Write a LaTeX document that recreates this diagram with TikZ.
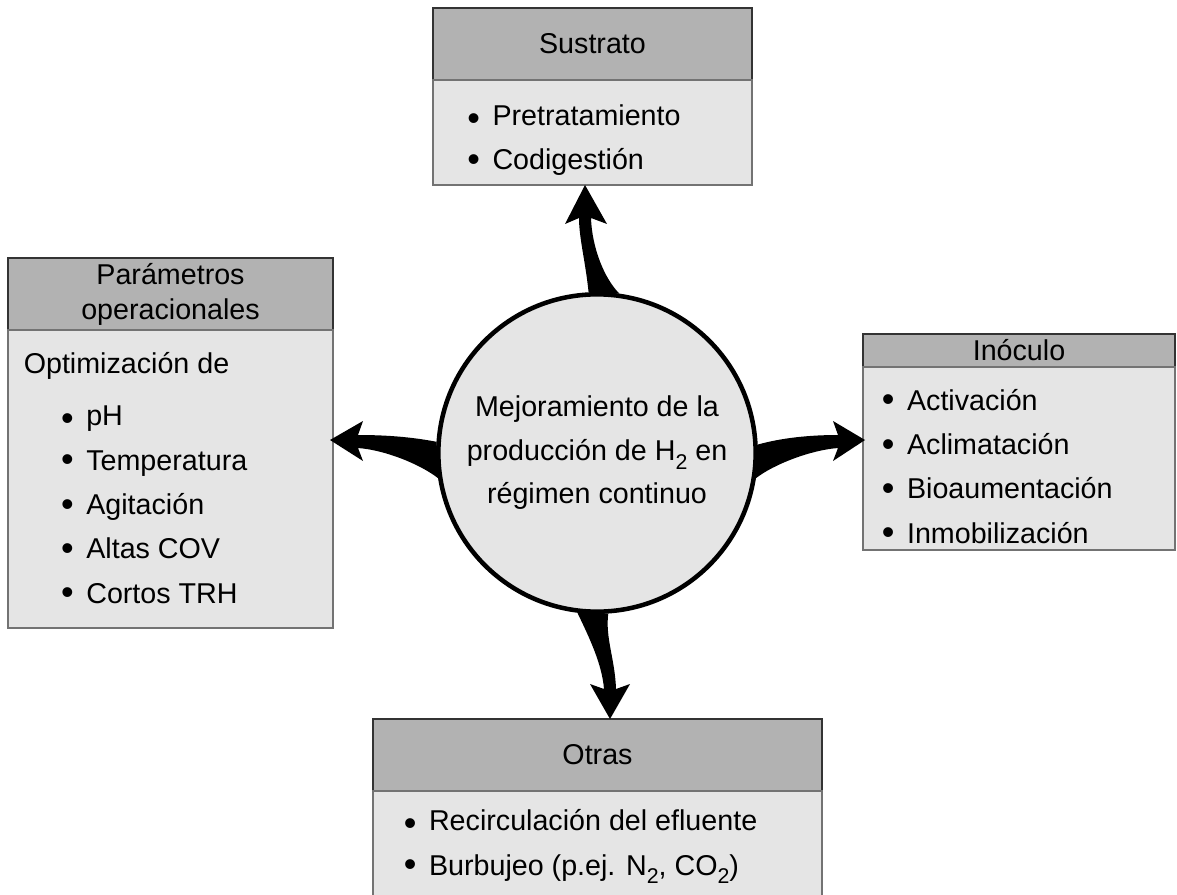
\documentclass[tikz,border=0pt]{standalone}
\usepackage{fontspec}
\setmainfont{Liberation Sans}
\usetikzlibrary{positioning,calc}
\newcommand{\vinyeta}{\raisebox{-1.3pt}{\fontsize{27}{27}\selectfont\textbullet}\hspace{9.5pt}}
\newcommand{\vinyetab}{\raisebox{-3.3pt}{\fontsize{27}{27}\selectfont\textbullet}\hspace{9.5pt}}
\newcommand{\bajo}[1]{\raisebox{-0.3em}{\fontsize{16}{16}\selectfont #1}}

\begin{document}
\begin{tikzpicture}[x=0.75pt,y=0.75pt]
\tikzstyle{every node}+=[inner sep=0pt]
\tikzstyle{cab}=[draw=black!80, fill=black!30, line width=1.2pt, outer sep=0pt, align=center, font=\fontsize{21.5}{26.3}\selectfont]
\tikzstyle{cuerpo}=[draw=black!55, fill=black!10, line width=1.2pt, outer sep=0pt]
\tikzstyle{lista}=[anchor=base west, align=left, font=\fontsize{21.5}{33.2}\selectfont]
\tikzstyle{centro}=[circle, draw=black, fill=black!10, line width=3.4pt, minimum size=238pt, align=center, font=\fontsize{21.5}{32.6}\selectfont]
\clip (0,0) rectangle (1177,894);
% circulo central
\node [centro] (c) at (597,441) {Mejoramiento de la\\producción de H\bajo{2} en\\régimen continuo};
% Sustrato
\node [cab, minimum width=239.25pt, minimum height=54pt] (sus) at (592.5,850) {Sustrato};
\node [cuerpo, minimum width=239.25pt, minimum height=78.75pt, below=0pt of sus] (susb) {};
\node [lista] (susl) at ($(susb.north west)+(34,-90)$) {\vinyetab Pretratamiento\\\vinyeta Codigestión};
% Parametros operacionales
\node [cab, minimum width=243.75pt, minimum height=54pt] (par) at (170.5,600) {Parámetros\\operacionales};
\node [cuerpo, minimum width=243.75pt, minimum height=223.5pt, below=0pt of par] (parb) {};
\node [lista] (parl) at ($(parb.north west)+(15.5,-273)$) {Optimización de\\[6.2pt]
\hspace*{1.3em}\vinyetab pH\\
\hspace*{1.3em}\vinyeta Temperatura\\
\hspace*{1.3em}\vinyeta Agitación\\
\hspace*{1.3em}\vinyeta Altas COV\\
\hspace*{1.3em}\vinyeta Cortos TRH};
% Inoculo
\node [cab, minimum width=234pt, minimum height=24.75pt] (ino) at (1019,543.5) {Inóculo};
\node [cuerpo, minimum width=234pt, minimum height=137.25pt, below=0pt of ino] (inob) {};
\node [lista] (inol) at ($(inob.north west)+(18.5,-176)$) {\vinyeta Activación\\\vinyeta Aclimatación\\\vinyeta Bioaumentación\\\vinyeta Inmobilización};
% Otras
\node [cab, minimum width=336.75pt, minimum height=54pt] (otr) at (597.5,139) {Otras};
\node [cuerpo, minimum width=336.75pt, minimum height=107.25pt, below=0pt of otr] (otrb) {};
\node [lista] (otrl) at ($(otrb.north west)+(30.5,-84)$) {\vinyetab Recirculación del efluente\\\vinyeta Burbujeo (p.ej. N\bajo{2}, CO\bajo{2})};
% flechas
\coordinate (ts) at ($(susb.south)+(-7.5,0)$);
\coordinate (tl) at ($(parb.east)+(-3,39)$);
\coordinate (tr) at ($(inob.west)+(2,18.5)$);
\coordinate (tb) at ($(otr.north)+(12.5,0)$);
\fill [black] (c.93) .. controls +(-3,30) and +(0,-20) .. ($(ts)+(-6,-33)$) -- ($(ts)+(-20,-39)$) -- (ts) -- ($(ts)+(22,-39)$) -- ($(ts)+(6,-33)$) .. controls +(1,-30) and +(-15,15) .. (c.82) -- cycle;
\fill [black] (c.176) .. controls +(-26,5) and +(27,0) .. ($(tl)+(28,5)$) -- ($(tl)+(33,19)$) -- (tl) -- ($(tl)+(33,-21)$) -- ($(tl)+(28,-8)$) .. controls +(27,-2) and +(-18,14) .. (c.189) -- cycle;
\fill [black] (c.3) .. controls +(25,7) and +(-27,0) .. ($(tr)+(-27,5)$) -- ($(tr)+(-32,19)$) -- (tr) -- ($(tr)+(-32,-21)$) -- ($(tr)+(-27,-8)$) .. controls +(-27,-2) and +(18,14) .. (c.351) -- cycle;
\fill [black] (c.263) .. controls +(12,-25) and +(-2,25) .. ($(tb)+(-6,30)$) -- ($(tb)+(-20,35)$) -- (tb) -- ($(tb)+(20,35)$) -- ($(tb)+(6,30)$) .. controls +(-1,30) and +(-3,-25) .. (c.274) -- cycle;
\end{tikzpicture}
\end{document}
